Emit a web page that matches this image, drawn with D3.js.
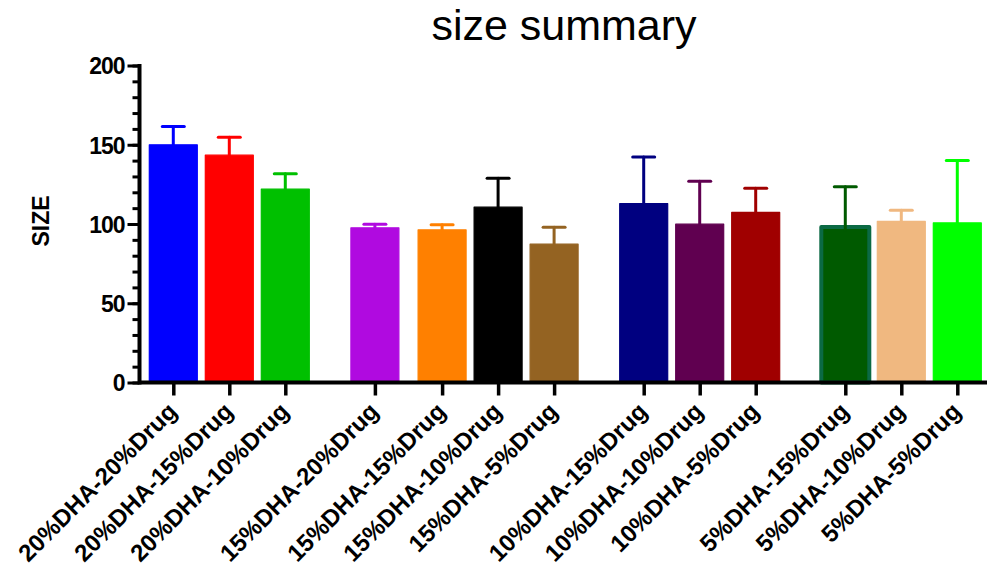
<!DOCTYPE html>
<html>
<head>
<meta charset="utf-8">
<script src="https://cdn.jsdelivr.net/npm/d3@7"></script>
<style>
  html, body { margin: 0; padding: 0; background: #fff; }
  svg { display: block; }
  text { font-family: "Liberation Sans", Arial, sans-serif; }
</style>
</head>
<body>
<svg id="chart" width="988" height="571"></svg>
<script>
// Formulation groups (DHA level) and the drug loading within each
const groups = [
  ["20%DHA-20%Drug", "20%DHA-15%Drug", "20%DHA-10%Drug"],
  ["15%DHA-20%Drug", "15%DHA-15%Drug", "15%DHA-10%Drug", "15%DHA-5%Drug"],
  ["10%DHA-15%Drug", "10%DHA-10%Drug", "10%DHA-5%Drug"],
  ["5%DHA-15%Drug", "5%DHA-10%Drug", "5%DHA-5%Drug"]
];
const categories = groups.flat();

// Mean particle size and upper error (SD) per formulation
const meanSize = [150, 143.4, 122, 97.6, 96.3, 110.6, 87.3, 112.9, 99.9, 107.3, 99, 101.6, 100.7];
const sdSize   = [11.5, 11.4, 9.7, 2.3, 3.2, 18.3, 10.7, 29.3, 27.1, 15.3, 24.5, 7.1, 39.3];

// Axis ticks
const yMajorTicks = [0, 50, 100, 150, 200];
const yMinorTicks = d3.range(0, 201, 10);

// Bar fill colours, one per formulation
const fills = ["#0000ff", "#ff0000", "#00c000", "#b00ae0", "#ff8000", "#000000", "#946322",
               "#000080", "#600050", "#a00000", "#005a00", "#f0b880", "#00ff00"];
const strokes = fills.map((c, i) => i === 10 ? "#0b6a44" : c);

const svg = d3.select("#chart");
const font = "'Liberation Sans', Arial, sans-serif";

// Slot layout: one slot per bar, wider spacing between DHA groups
const groupGap = 0.6;
const slots = [];
let s = 0;
groups.forEach((g, gi) => {
  g.forEach((_, i) => {
    slots.push(s);
    s += 1;
    if (gi === 1 && i === 0) s += 0.2;
  });
  s += groupGap;
});

const x = d3.scaleLinear().domain([0, slots[slots.length - 1]]).range([173.3, 957.3]);
const y = d3.scaleLinear().domain([0, 200]).range([382.5, 65.5]);
const barW = 48;

// Bars
const data = categories.map((c, i) => ({ c, mean: meanSize[i], sd: sdSize[i], slot: slots[i], i }));

svg.append("g").selectAll("rect").data(data).join("rect")
  .attr("x", d => x(d.slot) - barW / 2)
  .attr("y", d => y(d.mean) + (d.i === 10 ? 1.5 : 0))
  .attr("width", barW)
  .attr("height", d => y(0) - y(d.mean) - (d.i === 10 ? 1.5 : 0))
  .attr("fill", d => fills[d.i])
  .attr("stroke", d => strokes[d.i])
  .attr("stroke-width", d => d.i === 10 ? 4 : 1.2)
  .attr("stroke-linejoin", "round");

// Error bars (upper whisker only)
const err = svg.append("g").selectAll("g").data(data).join("g")
  .attr("stroke", d => d.i === 10 ? "#005a00" : fills[d.i])
  .attr("stroke-width", 3)
  .attr("stroke-linecap", "round");
err.append("line")
  .attr("x1", d => x(d.slot)).attr("x2", d => x(d.slot))
  .attr("y1", d => y(d.mean) + (d.i === 10 ? 5 : 0))
  .attr("y2", d => y(d.mean + d.sd));
err.append("line")
  .attr("x1", d => x(d.slot) - 11).attr("x2", d => x(d.slot) + 11)
  .attr("y1", d => y(d.mean + d.sd)).attr("y2", d => y(d.mean + d.sd));

// Y axis with minor ticks
const yAxisX = 139.5;
const yAxisG = svg.append("g").attr("transform", `translate(${yAxisX},0)`);
yAxisG.call(d3.axisLeft(y).tickValues(yMinorTicks).tickSize(7).tickFormat(""))
  .call(g => g.select(".domain").remove())
  .call(g => g.selectAll(".tick line").attr("stroke", "#000").attr("stroke-width", 3));
const yMajorG = svg.append("g").attr("transform", `translate(${yAxisX},0)`);
yMajorG.call(d3.axisLeft(y).tickValues(yMajorTicks).tickSize(12).tickPadding(3).tickFormat(d3.format("d")))
  .call(g => g.select(".domain").remove())
  .call(g => g.selectAll(".tick line").attr("stroke", "#000").attr("stroke-width", 3))
  .call(g => g.selectAll(".tick text")
    .attr("fill", "#000")
    .style("font-family", font)
    .style("font-size", "23px")
    .style("font-weight", "bold")
    .style("letter-spacing", "-1px")
    .attr("dy", "0.36em"));
svg.append("line")
  .attr("x1", yAxisX).attr("x2", yAxisX)
  .attr("y1", y(200) - 1.5).attr("y2", y(0) + 2)
  .attr("stroke", "#000").attr("stroke-width", 4);

// X axis
const xAxisG = svg.append("g").attr("transform", `translate(0,${y(0)})`);
xAxisG.call(d3.axisBottom(x).tickValues(slots).tickSize(13).tickFormat(""))
  .call(g => g.select(".domain").remove())
  .call(g => g.selectAll(".tick line").attr("stroke", "#000").attr("stroke-width", 3.5));
svg.append("line")
  .attr("x1", yAxisX).attr("x2", 987)
  .attr("y1", y(0)).attr("y2", y(0))
  .attr("stroke", "#000").attr("stroke-width", 4);

// Rotated category labels
svg.append("g").selectAll("text").data(data).join("text")
  .attr("transform", d => `translate(${x(d.slot) + 5},413) rotate(-45)`)
  .attr("text-anchor", "end")
  .style("font-family", font)
  .style("font-size", "24px")
  .style("font-weight", "bold")
  .attr("fill", "#000")
  .text(d => d.c);

// Y axis title
svg.append("text")
  .attr("transform", "translate(49,221) rotate(-90)")
  .attr("text-anchor", "middle")
  .style("font-family", font)
  .style("font-size", "23px")
  .style("font-weight", "bold")
  .text("SIZE");

// Chart title
svg.append("text")
  .attr("x", 564).attr("y", 39.5)
  .attr("text-anchor", "middle")
  .style("font-family", font)
  .style("font-size", "43px")
  .text("size summary");
</script>
</body>
</html>
